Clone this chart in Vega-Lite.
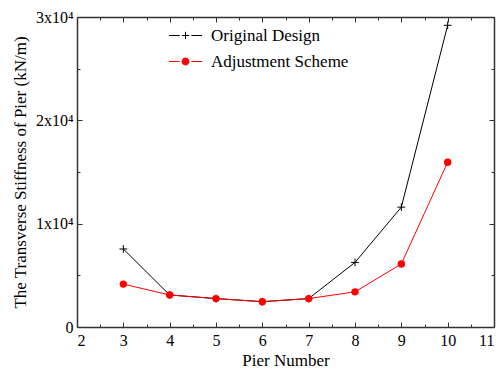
{
  "$schema": "https://vega.github.io/schema/vega-lite/v6.json",
  "width": 417,
  "height": 310,
  "autosize": {"type": "none"},
  "padding": {"left": 77, "top": 17, "right": 10, "bottom": 42},
  "background": "white",
  "config": {
    "view": {"stroke": null},
    "font": "Times New Roman",
    "axis": {"grid": false, "labelFont": "Times New Roman", "titleFont": "Times New Roman", "labelColor": "black", "titleColor": "black", "domainColor": "#333", "domainWidth": 1.5, "tickColor": "#333", "tickWidth": 1, "labelFontSize": 16, "titleFontSize": 17, "titleFontWeight": "normal"},
    "legend": {"labelFont": "Times New Roman", "labelFontSize": 17, "labelColor": "black"}
  },
  "data": {"values": [
    {"pier": 3, "series": "Original Design", "value": 7550},
    {"pier": 4, "series": "Original Design", "value": 3100},
    {"pier": 5, "series": "Original Design", "value": 2750},
    {"pier": 6, "series": "Original Design", "value": 2450},
    {"pier": 7, "series": "Original Design", "value": 2750},
    {"pier": 8, "series": "Original Design", "value": 6250},
    {"pier": 9, "series": "Original Design", "value": 11600},
    {"pier": 10, "series": "Original Design", "value": 29200},
    {"pier": 3, "series": "Adjustment Scheme", "value": 4150},
    {"pier": 4, "series": "Adjustment Scheme", "value": 3100},
    {"pier": 5, "series": "Adjustment Scheme", "value": 2750},
    {"pier": 6, "series": "Adjustment Scheme", "value": 2450},
    {"pier": 7, "series": "Adjustment Scheme", "value": 2750},
    {"pier": 8, "series": "Adjustment Scheme", "value": 3400},
    {"pier": 9, "series": "Adjustment Scheme", "value": 6100},
    {"pier": 10, "series": "Adjustment Scheme", "value": 15950}
  ]},
  "resolve": {"axis": {"x": "independent", "y": "independent"}},
  "layer": [
    {
      "transform": [{"filter": "datum.series == 'Original Design'"}],
      "mark": {"type": "line", "strokeWidth": 1, "stroke": "black"},
      "encoding": {
        "x": {"field": "pier", "type": "quantitative", "scale": {"domain": [2, 11], "nice": false, "zero": false},
          "axis": {"orient": "bottom", "values": [2,3,4,5,6,7,8,9,10,11], "tickSize": -5, "labelPadding": 10, "title": "Pier Number", "titlePadding": 4, "format": "d"}},
        "y": {"field": "value", "type": "quantitative", "scale": {"domain": [0, 30000], "nice": false},
          "axis": {"orient": "left", "values": [0, 10000, 20000, 30000], "tickSize": -5, "labelPadding": 9, "labelExpr": "datum.value == 0 ? '0' : (datum.value/10000) + 'x10⁴'", "title": "The Transverse Stiffness of Pier (kN/m)", "titlePadding": 6}}
      }
    },
    {
      "transform": [{"filter": "datum.series == 'Adjustment Scheme'"}],
      "mark": {"type": "line", "strokeWidth": 1, "stroke": "red"},
      "encoding": {
        "x": {"field": "pier", "type": "quantitative", "axis": null},
        "y": {"field": "value", "type": "quantitative", "axis": null}
      }
    },
    {
      "transform": [{"filter": "datum.series == 'Original Design'"}],
      "mark": {"type": "point", "shape": "M-1,0H1M0,-1V1", "filled": false, "stroke": "black", "strokeWidth": 1, "size": 60, "opacity": 1},
      "encoding": {
        "x": {"field": "pier", "type": "quantitative", "axis": {"orient": "bottom", "values": [2.5,3.5,4.5,5.5,6.5,7.5,8.5,9.5,10.5], "tickSize": -3, "labels": false, "domain": false, "title": null}},
        "y": {"field": "value", "type": "quantitative", "axis": {"orient": "left", "values": [5000, 15000, 25000], "tickSize": -3, "labels": false, "domain": false, "title": null}}
      }
    },
    {
      "transform": [{"filter": "datum.series == 'Adjustment Scheme'"}],
      "mark": {"type": "point", "shape": "circle", "filled": true, "fill": "red", "size": 55, "opacity": 1},
      "encoding": {
        "x": {"field": "pier", "type": "quantitative", "axis": {"orient": "top", "values": [2,3,4,5,6,7,8,9,10,11], "tickSize": -5, "labels": false, "title": null}},
        "y": {"field": "value", "type": "quantitative", "axis": {"orient": "right", "values": [0, 10000, 20000, 30000], "tickSize": -5, "labels": false, "title": null}}
      }
    },
    {
      "transform": [{"filter": "datum.pier > 100"}],
      "mark": {"type": "point", "filled": true, "strokeWidth": 1, "opacity": 1},
      "encoding": {
        "x": {"field": "pier", "type": "quantitative", "axis": {"orient": "top", "values": [2.5,3.5,4.5,5.5,6.5,7.5,8.5,9.5,10.5], "tickSize": -3, "labels": false, "domain": false, "title": null}},
        "y": {"field": "value", "type": "quantitative", "axis": {"orient": "right", "values": [5000, 15000, 25000], "tickSize": -3, "labels": false, "domain": false, "title": null}},
        "shape": {"field": "series", "type": "nominal", "scale": {"domain": ["Original Design", "Adjustment Scheme"], "range": ["M-1,0H-0.35M0.35,0H1M-0.22,0H0.22M0,-0.22V0.22", "M-1,0H-0.35M0.35,0H1M-0.21,0A0.21,0.21 0 1,1 0.21,0A0.21,0.21 0 1,1 -0.21,0Z"]},
          "legend": {"title": null, "orient": "top-left", "offset": 1, "symbolOffset": 90, "symbolSize": 1100, "symbolStrokeWidth": 1, "symbolOpacity": 1, "rowPadding": -11, "labelOffset": 8}},
        "fill": {"field": "series", "type": "nominal", "scale": {"domain": ["Original Design", "Adjustment Scheme"], "range": ["black", "red"]}},
        "stroke": {"field": "series", "type": "nominal", "scale": {"domain": ["Original Design", "Adjustment Scheme"], "range": ["black", "red"]}}
      }
    }
  ]
}
